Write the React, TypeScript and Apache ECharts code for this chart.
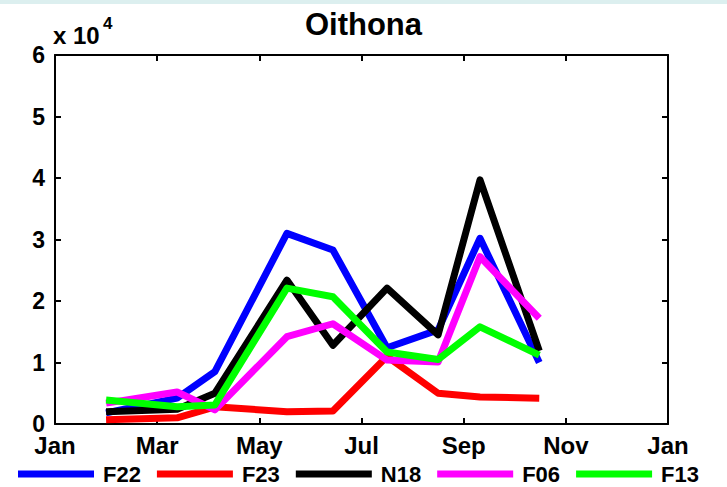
import React, { useEffect, useRef } from "react";
import * as echarts from "echarts";

// sampling dates, in months from 1 January
const sampleMonths = [1.0, 2.39, 3.13, 4.54, 5.44, 6.5, 7.5, 8.32, 9.48];
// abundance, in units of 10^4
const f22 = [0.18, 0.42, 0.85, 3.1, 2.83, 1.24, 1.53, 3.02, 1.0];
const f23 = [0.07, 0.1, 0.28, 0.2, 0.21, 1.1, 0.5, 0.44, 0.42];
const n18 = [0.2, 0.24, 0.5, 2.34, 1.28, 2.21, 1.45, 3.97, 1.19];
const f06 = [0.34, 0.52, 0.23, 1.42, 1.63, 1.04, 1.01, 2.72, 1.72];
const f13 = [0.39, 0.28, 0.31, 2.21, 2.07, 1.17, 1.05, 1.58, 1.12];
const monthLabels = ["Jan", "Mar", "May", "Jul", "Sep", "Nov", "Jan"];
const seriesNames = ["F22", "F23", "N18", "F06", "F13"];
const seriesColors = ["#0000ff", "#ff0000", "#000000", "#ff00ff", "#00ff00"];
const seriesValues = [f22, f23, n18, f06, f13];

const FONT = "'Liberation Sans', Arial, Helvetica, sans-serif";

export default function App() {
  const ref = useRef<HTMLDivElement>(null);
  useEffect(() => {
    if (!ref.current) return;
    const chart = echarts.init(ref.current, undefined, { renderer: "svg" });
    const axisLine = { show: true, onZero: false, lineStyle: { color: "#000", width: 2 } };
    const tick = { show: true, inside: true, length: 6, lineStyle: { color: "#000", width: 2 } };
    chart.setOption({
      animation: false,
      backgroundColor: "#fff",
      title: {
        text: "Oithona",
        left: "center",
        top: 4,
        textStyle: { fontFamily: FONT, fontSize: 31, fontWeight: "bold", color: "#000" },
      },
      graphic: [
        {
          type: "text",
          left: 53,
          top: 23,
          style: { text: "x 10", font: `bold 24px ${FONT}`, fill: "#000" },
        },
        {
          type: "text",
          left: 103,
          top: 15,
          style: { text: "4", font: `bold 17px ${FONT}`, fill: "#000" },
        },
      ],
      legend: {
        left: 18,
        top: 463,
        icon: "rect",
        itemWidth: 76,
        itemHeight: 7,
        itemGap: 16,
        padding: 0,
        data: seriesNames,
        textStyle: {
          fontFamily: FONT,
          fontSize: 22,
          lineHeight: 20,
          fontWeight: "bold",
          color: "#000",
          padding: [0, 0, 0, 4],
        },
      },
      grid: { left: 55, right: 59, top: 55, bottom: 63, containLabel: false },
      xAxis: [
        {
          type: "value",
          min: 0,
          max: 12,
          interval: 2,
          axisLine,
          axisTick: tick,
          splitLine: { show: false },
          axisLabel: {
            margin: 10,
            fontFamily: FONT,
            fontSize: 24,
            lineHeight: 22,
            fontWeight: "bold",
            color: "#000",
            formatter: (v: number) => monthLabels[Math.round(v / 2)] ?? "",
          },
        },
        {
          type: "value",
          position: "top",
          min: 0,
          max: 12,
          interval: 2,
          axisLine,
          axisTick: tick,
          splitLine: { show: false },
          axisLabel: { show: false },
        },
      ],
      yAxis: [
        {
          type: "value",
          min: 0,
          max: 6,
          interval: 1,
          axisLine,
          axisTick: tick,
          splitLine: { show: false },
          axisLabel: {
            margin: 10,
            fontFamily: FONT,
            fontSize: 23,
            lineHeight: 18,
            fontWeight: "bold",
            color: "#000",
          },
        },
        {
          type: "value",
          position: "right",
          min: 0,
          max: 6,
          interval: 1,
          axisLine,
          axisTick: tick,
          splitLine: { show: false },
          axisLabel: { show: false },
        },
      ],
      series: seriesNames.map((name, i) => ({
        name,
        type: "line",
        xAxisIndex: 0,
        yAxisIndex: 0,
        data: sampleMonths.map((m, j) => [m, seriesValues[i][j]]),
        showSymbol: false,
        symbol: "none",
        color: seriesColors[i],
        lineStyle: { color: seriesColors[i], width: 7, join: "round" },
        z: 2 + i,
      })),
    });
    return () => chart.dispose();
  }, []);
  return (
    <div style={{ position: "fixed", left: 0, top: 0, width: 727, height: 487, background: "#fff" }}>
      <div style={{ position: "absolute", left: 0, top: 0, width: 727, height: 4, background: "#dcefef", zIndex: 2 }} />
      <div ref={ref} style={{ width: 727, height: 487 }} />
    </div>
  );
}
